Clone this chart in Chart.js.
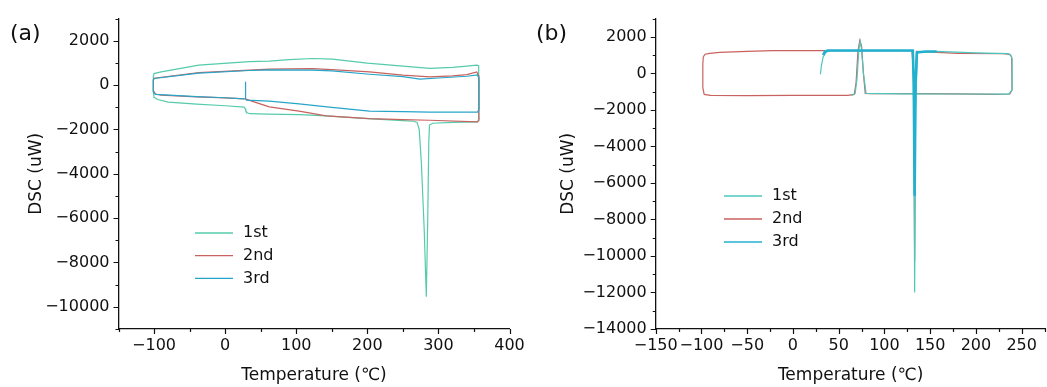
<!DOCTYPE html>
<html>
<head>
<meta charset="utf-8">
<script src="https://cdn.jsdelivr.net/npm/chart.js@4/dist/chart.umd.min.js"></script>
<style>
  html, body { margin: 0; padding: 0; background: #fff; }
  #wrap { position: relative; width: 1047px; height: 387px; overflow: hidden; }
  canvas { position: absolute; left: 0; top: 0; }
</style>
</head>
<body>
<div id="wrap">
  <canvas id="chartA" width="1047" height="387"></canvas>
  <canvas id="chartB" width="1047" height="387"></canvas>
</div>
<script>
// ---- data: panel (a) ----
const runLabels = ['1st', '2nd', '3rd'];

const aRun1Temp = [27, 28, 29, 31, 35, 60, 104, 142, 200, 250, 265, 270, 273, 276, 280, 283, 285, 286.5, 287.5, 292, 320, 355, 357, 357, 357, 356, 354, 340, 320, 288, 250, 200, 151, 123, 90, 62, 34, -37, -90, -100, -101, -101, -100, -95, -80, -40, 0, 27];
const aRun1Dsc  = [-990, -1050, -1150, -1250, -1290, -1310, -1330, -1390, -1510, -1600, -1630, -1680, -2000, -3500, -6500, -9550, -6000, -2500, -1800, -1720, -1680, -1660, -1500, 0, 700, 880, 900, 860, 800, 755, 860, 990, 1170, 1200, 1150, 1080, 1060, 900, 600, 520, 400, -300, -550, -650, -770, -860, -930, -990];

const aRun2Temp = [28, 45, 62, 104, 142, 203, 250, 288, 355, 357, 357, 354, 340, 320, 288, 250, 203, 150, 123, 62, 34, -37, -100, -101, -101, -98, -90, -40, 0, 28];
const aRun2Dsc  = [-620, -800, -980, -1170, -1390, -1510, -1560, -1585, -1660, -1600, 400, 590, 470, 420, 370, 450, 600, 700, 740, 720, 680, 560, 310, 250, -250, -400, -450, -530, -580, -620];

const aRun3Temp = [28, 28.5, 29, 30, 62, 104, 150, 203, 250, 288, 355, 357, 357, 355, 340, 300, 274, 250, 203, 150, 123, 62, 34, -37, -100, -101, -101, -98, -40, 0, 27];
const aRun3Dsc  = [-620, 150, -600, -680, -720, -845, -1000, -1170, -1200, -1215, -1215, -1100, 300, 460, 400, 320, 270, 380, 490, 640, 680, 690, 660, 540, 300, 200, -300, -420, -520, -570, -620];

const aTicksX = [-100, 0, 100, 200, 300, 400];
const aTicksY = [2000, 0, -2000, -4000, -6000, -8000, -10000];

// ---- data: panel (b) ----
const bRun1Temp = [30, 31, 33, 36, 40, 80, 131, 132, 133, 134, 136, 157, 200, 235, 238, 239.5, 239.5, 236, 180, 120, 80, 77, 75, 73.5, 72, 70, 68, 64];
const bRun1Dsc  = [-50, 400, 900, 1150, 1240, 1250, 1250, -2000, -12000, -2000, 1150, 1200, 1120, 1080, 1000, 800, -900, -1140, -1130, -1120, -1100, 0, 1300, 1750, 1300, -300, -1100, -1205];

const bRun2Temp = [-98, -96, -91, -80, -50, -22, 35, 100, 130, 132, 133, 134, 135, 180, 230, 237, 239, 239.5, 237, 220, 180, 130, 85, 79, 77, 75, 73, 71, 69, 67, 60, 0, -50, -90, -97, -98.5, -98.5, -98];
const bRun2Dsc  = [900, 1050, 1100, 1150, 1200, 1245, 1250, 1250, 1250, 0, -10300, 0, 1200, 1100, 1080, 1040, 900, -900, -1130, -1150, -1120, -1110, -1110, -1100, 0, 1500, 1800, 1200, -500, -1150, -1205, -1210, -1220, -1205, -1150, -800, 500, 900];

const bRun3Temp = [33, 35, 38, 60, 100, 131, 132, 133, 134, 135.5, 145, 157];
const bRun3Dsc  = [1000, 1200, 1250, 1255, 1255, 1250, -500, -6700, -500, 1150, 1200, 1200];

const bTicksX = [-150, -100, -50, 0, 50, 100, 150, 200, 250];
const bTicksY = [2000, 0, -2000, -4000, -6000, -8000, -10000, -12000, -14000];

const colorsA = ['#55cbaa', '#c8625f', '#27a5c8'];
const colorsB = ['#4cc7bd', '#c8625f', '#22b0cf'];

Chart.defaults.font.family = "'DejaVu Sans', 'Noto Sans CJK JP', sans-serif";
Chart.defaults.color = '#111';

function toPoints(temps, dsc) {
  return temps.map((t, i) => ({ x: t, y: dsc[i] }));
}

function fmt(v) {
  return String(v).replace('-', '\u2212');
}

// minor/major outward ticks, legend and panel letter
const decor = {
  id: 'decor',
  afterDraw(chart, args, opts) {
    const ctx = chart.ctx;
    const area = chart.chartArea;
    const xs = chart.scales.x, ys = chart.scales.y;
    ctx.save();
    ctx.strokeStyle = '#111';
    ctx.lineWidth = 1.2;
    ctx.beginPath();
    for (let v = Math.ceil(xs.min / opts.xMinor) * opts.xMinor; v <= xs.max + 1e-6; v += opts.xMinor) {
      const len = Math.abs(v % opts.xMajor) < 1e-6 ? 5 : 3;
      const px = Math.round(xs.getPixelForValue(v)) + 0.5;
      ctx.moveTo(px, area.bottom);
      ctx.lineTo(px, area.bottom + len);
    }
    for (let v = Math.ceil(ys.min / opts.yMinor) * opts.yMinor; v <= ys.max + 1e-6; v += opts.yMinor) {
      const len = Math.abs(v % opts.yMajor) < 1e-6 ? 5 : 3;
      const py = Math.round(ys.getPixelForValue(v)) + 0.5;
      ctx.moveTo(area.left - len, py);
      ctx.lineTo(area.left, py);
    }
    ctx.stroke();

    // legend
    const lg = opts.legend;
    ctx.font = '16px ' + Chart.defaults.font.family;
    ctx.textBaseline = 'middle';
    ctx.textAlign = 'left';
    chart.data.datasets.forEach((ds, i) => {
      const yy = lg.y + i * lg.row;
      ctx.strokeStyle = ds.borderColor;
      ctx.lineWidth = 1.3;
      ctx.beginPath();
      ctx.moveTo(lg.x, yy);
      ctx.lineTo(lg.x + lg.len, yy);
      ctx.stroke();
      ctx.fillStyle = '#111';
      ctx.fillText(ds.label, lg.x + lg.len + 10, yy);
    });

    // panel letter
    ctx.font = '22px ' + Chart.defaults.font.family;
    ctx.fillStyle = '#111';
    ctx.fillText(opts.letter.text, opts.letter.x, opts.letter.y);
    ctx.restore();
  }
};

function makeChart(id, p) {
  const datasets = p.runs.map((r, i) => ({
    label: runLabels[i],
    data: toPoints(r[0], r[1]),
    borderColor: p.colors[i],
    backgroundColor: p.colors[i],
    borderWidth: p.widths[i],
    order: p.orders[i],
    showLine: true,
    pointRadius: 0,
    tension: 0,
    fill: false
  }));
  return new Chart(document.getElementById(id).getContext('2d'), {
    type: 'scatter',
    data: { datasets },
    options: {
      responsive: false,
      animation: false,
      events: [],
      layout: { padding: p.padding },
      plugins: {
        legend: { display: false },
        tooltip: { enabled: false },
        decor: p.decor
      },
      scales: {
        x: {
          type: 'linear',
          min: p.xMin, max: p.xMax,
          afterBuildTicks: s => { s.ticks = p.xTicks.map(v => ({ value: v })); },
          afterFit: s => { s.height = 57; },
          grid: { display: false, drawTicks: false },
          border: { display: true, color: '#111', width: 1.3 },
          ticks: { font: { size: 16 }, padding: 7, maxRotation: 0, autoSkip: false, callback: fmt },
          title: { display: true, text: 'Temperature (℃)', font: { size: 17 }, padding: 0 }
        },
        y: {
          type: 'linear',
          min: p.yMin, max: p.yMax,
          afterBuildTicks: s => { s.ticks = p.yTicks.map(v => ({ value: v })); },
          afterFit: s => { s.width = p.yWidth; },
          grid: { display: false, drawTicks: false },
          border: { display: true, color: '#111', width: 1.3 },
          ticks: { font: { size: 16 }, padding: 9, autoSkip: false, callback: fmt },
          title: { display: true, text: 'DSC (uW)', font: { size: 17 }, padding: 0 }
        }
      }
    },
    plugins: [decor]
  });
}

makeChart('chartA', {
  runs: [[aRun1Temp, aRun1Dsc], [aRun2Temp, aRun2Dsc], [aRun3Temp, aRun3Dsc]],
  colors: colorsA,
  widths: [1.2, 1.2, 1.2],
  orders: [2, 1, 0],
  xMin: -150, xMax: 400, xTicks: aTicksX,
  yMin: -11000, yMax: 3000, yTicks: aTicksY,
  padding: { left: 26, top: 14, right: 537.5, bottom: 1 },
  yWidth: 92.5,
  decor: {
    xMinor: 50, xMajor: 100, yMinor: 1000, yMajor: 2000,
    legend: { x: 195, y: 233, row: 22.7, len: 38 },
    letter: { text: '(a)', x: 10, y: 34 }
  }
});

makeChart('chartB', {
  runs: [[bRun1Temp, bRun1Dsc], [bRun2Temp, bRun2Dsc], [bRun3Temp, bRun3Dsc]],
  colors: colorsB,
  widths: [1.2, 1.2, 2.6],
  orders: [1, 2, 0],
  xMin: -150, xMax: 276, xTicks: bTicksX,
  yMin: -14000, yMax: 3000, yTicks: bTicksY,
  padding: { left: 558, top: 13, right: 1.5, bottom: 1 },
  yWidth: 97.7,
  decor: {
    xMinor: 25, xMajor: 50, yMinor: 1000, yMajor: 2000,
    legend: { x: 724, y: 196, row: 23, len: 38 },
    letter: { text: '(b)', x: 536, y: 34 }
  }
});
</script>
</body>
</html>
